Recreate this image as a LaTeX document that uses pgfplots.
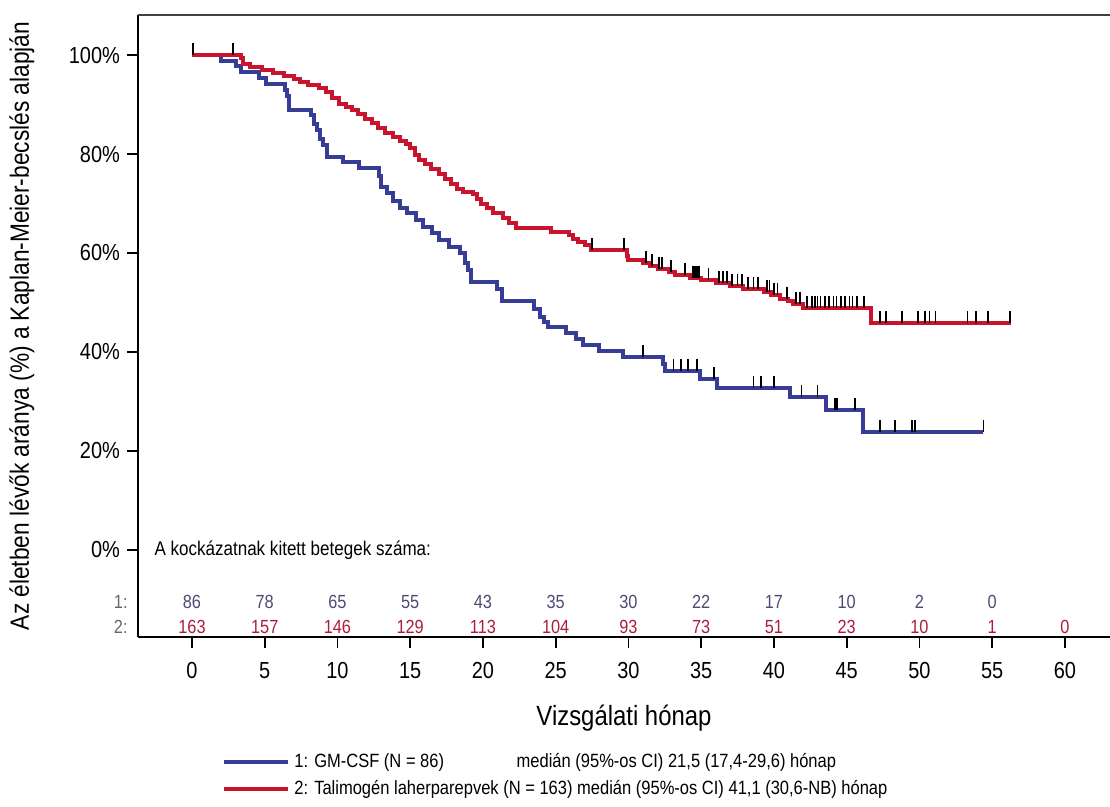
\documentclass[border=0pt]{standalone}
\usepackage{fontspec}
\setmainfont{Liberation Sans}[FakeStretch=0.86]
\usepackage{pgfplots}
\pgfplotsset{compat=1.18}
\definecolor{kmblue}{RGB}{55,60,150}
\definecolor{kmred}{RGB}{200,20,45}
\definecolor{rblue}{RGB}{75,75,115}
\definecolor{rred}{RGB}{170,30,60}
\begin{document}
\begin{tikzpicture}
\useasboundingbox (-69pt,-85pt) rectangle (486pt,318.5pt);
\begin{axis}[
  at={(0,0)}, anchor=south west,
  width=486pt, height=311pt, scale only axis,
  xmin=-3.71, xmax=63.1, ymin=-17.6, ymax=108.1,
  axis line style={draw=none},
  tick pos=left, tick align=outside,
  major tick length=5.5pt,
  every tick/.style={black, line width=0.9pt},
  xtick={0,5,...,60}, ytick={0,20,...,100},
  /pgf/number format/assume math mode=true,
  yticklabel={\pgfmathprintnumber{\tick}\%},
  ticklabel style={font=\fontsize{11.6}{13}\selectfont},
  xticklabel style={yshift=-3.5pt},
  xlabel={Vizsgálati hónap},
  ylabel={Az életben lévők aránya (\%) a Kaplan-Meier-becslés alapján},
  xlabel style={at={([yshift=-40.5pt]axis description cs:0.5,0)}, anchor=center, font=\fontsize{13.9}{16}\selectfont},
  ylabel style={at={([xshift=-58pt]axis description cs:0,0.5)}, anchor=center, font=\fontsize{13.2}{15}\selectfont},
  clip=false,
  legend style={at={([xshift=42pt,yshift=-56pt]rel axis cs:0,0)}, anchor=north west, draw=none, fill=none,
    inner sep=0pt, row sep=1pt, font=\fontsize{9.6}{11}\selectfont, cells={anchor=west}},
  legend image code/.code={\draw[#1] (0pt,0pt) -- (32pt,0pt);},
]
% curves
\addplot[const plot, kmblue, line width=2pt] coordinates {
(0,100)(2.0,98.8)(3.0,97.7)(3.4,96.5)(4.6,95.3)(5.1,94.2)(6.4,93.0)(6.55,91.8)(6.7,89.0)(8.2,87.8)(8.4,86.0)(8.6,84.8)(8.8,83.0)(9.0,81.8)(9.3,79.5)(10.4,78.4)(11.5,77.2)(12.85,75.5)(13.0,73.4)(13.4,72.2)(13.8,70.5)(14.3,69.0)(14.8,68.0)(15.4,66.7)(15.9,65.3)(16.5,64.0)(17.0,62.6)(17.7,61.3)(18.4,60.0)(18.8,58.0)(19.0,56.5)(19.2,54.2)(21.0,52.8)(21.3,50.3)(23.5,48.6)(23.9,47.1)(24.2,46.0)(24.5,45.0)(25.7,43.8)(26.4,42.6)(26.9,41.4)(28.0,40.2)(29.6,39.0)(32.4,37.6)(32.5,36.2)(34.9,34.5)(36.1,32.8)(41.1,31.0)(43.6,28.3)(46.1,23.8)(54.4,23.8)
};
\addlegendentry{1: GM-CSF (N = 86)\hspace{34pt} medián (95\%-os CI) 21,5 (17,4-29,6) hónap}
\addplot[const plot, kmred, line width=2pt] coordinates {
(0,100)(3.4,99.4)(3.5,98.2)(4.0,97.6)(4.8,97.0)(5.6,96.4)(6.3,95.7)(7.0,95.1)(7.4,94.5)(8.0,93.9)(8.7,93.3)(9.2,92.6)(9.6,91.4)(10.1,90.2)(10.6,89.6)(11.0,88.9)(11.4,88.0)(11.9,87.1)(12.4,86.2)(12.8,85.2)(13.3,84.3)(13.8,83.4)(14.3,82.6)(14.7,82.0)(15.0,81.2)(15.3,79.8)(15.6,78.8)(16.0,78.0)(16.4,77.0)(17.0,76.0)(17.4,75.0)(17.8,74.0)(18.2,73.0)(18.6,72.4)(19.3,72.0)(19.6,71.0)(19.9,70.0)(20.3,69.0)(20.7,68.0)(21.4,67.0)(21.8,66.0)(22.3,65.0)(24.7,64.3)(25.9,63.6)(26.2,62.9)(26.5,62.3)(27.0,61.6)(27.4,60.6)(29.9,59.3)(30.0,58.6)(31.0,58.0)(31.5,57.3)(32.0,56.8)(32.8,56.2)(33.2,55.6)(34.2,55.0)(35.0,54.5)(36.0,53.9)(37.0,53.4)(37.9,52.8)(39.3,52.2)(39.8,51.5)(40.4,50.8)(41.0,50.2)(41.3,49.6)(42.0,48.8)(46.7,45.9)(56.3,45.9)
};
\addlegendentry{2: Talimogén laherparepvek (N = 163) medián (95\%-os CI) 41,1 (30,6-NB) hónap}
% censoring marks
\addplot[forget plot, only marks, mark=|, mark size=3pt, mark options={black, line width=0.9pt, yshift=3pt}] coordinates {
(0.05,100)(2.8,100)(27.5,60.6)(29.7,60.6)(31.2,58.0)(31.6,57.3)(32.1,56.8)(32.3,56.8)(32.9,56.2)(33.9,55.6)(34.45,55.0)(34.6,55.0)(34.7,55.0)(34.85,55.0)(35.5,54.5)(36.2,53.9)(36.5,53.9)(36.8,53.9)(37.1,53.4)(37.5,53.4)(37.8,53.4)(38.2,52.8)(38.6,52.8)(38.9,52.8)(39.5,52.2)(39.7,52.2)(40.0,51.5)(40.25,51.5)(40.9,50.8)(41.5,49.6)(41.8,49.6)(42.3,48.8)(42.6,48.8)(42.8,48.8)(43.0,48.8)(43.2,48.8)(43.5,48.8)(43.8,48.8)(44.1,48.8)(44.3,48.8)(44.6,48.8)(44.9,48.8)(45.2,48.8)(45.4,48.8)(45.7,48.8)(46.2,48.8)(47.3,45.9)(47.7,45.9)(48.8,45.9)(49.9,45.9)(50.4,45.9)(50.7,45.9)(51.1,45.9)(53.3,45.9)(53.9,45.9)(54.7,45.9)(56.2,45.9)
};
\addplot[forget plot, only marks, mark=|, mark size=3pt, mark options={black, line width=0.9pt, yshift=3pt}] coordinates {
(31.0,39.0)(33.1,36.2)(33.6,36.2)(34.1,36.2)(34.7,36.2)(35.9,34.5)(38.6,32.8)(39.1,32.8)(40.0,32.8)(41.9,31.0)(43.0,31.0)(44.2,28.3)(44.35,28.3)(45.6,28.3)(47.3,23.8)(48.3,23.8)(49.5,23.8)(49.7,23.8)(54.4,23.8)
};
% numbers at risk
\addplot[forget plot, draw=none, mark=none, nodes near coords, point meta=explicit symbolic,
  every node near coord/.style={anchor=center, inner sep=0pt, text=rblue, font=\fontsize{9.5}{11}\selectfont}]
  table[meta=n] {
x y n
0 -10.5 86
5 -10.5 78
10 -10.5 65
15 -10.5 55
20 -10.5 43
25 -10.5 35
30 -10.5 30
35 -10.5 22
40 -10.5 17
45 -10.5 10
50 -10.5 2
55 -10.5 0
};
\addplot[forget plot, draw=none, mark=none, nodes near coords, point meta=explicit symbolic,
  every node near coord/.style={anchor=center, inner sep=0pt, text=rred, font=\fontsize{9.5}{11}\selectfont}]
  table[meta=n] {
x y n
0 -15.6 163
5 -15.6 157
10 -15.6 146
15 -15.6 129
20 -15.6 113
25 -15.6 104
30 -15.6 93
35 -15.6 73
40 -15.6 51
45 -15.6 23
50 -15.6 10
55 -15.6 1
60 -15.6 0
};
\node[anchor=west, inner sep=0pt, font=\fontsize{9.9}{11}\selectfont] at (axis cs:-2.6,0) {A kockázatnak kitett betegek száma:};
\node[anchor=east, inner sep=0pt, text=black!60, font=\fontsize{9.5}{11}\selectfont] at (axis cs:-4.4,-10.5) {1:};
\node[anchor=east, inner sep=0pt, text=black!60, font=\fontsize{9.5}{11}\selectfont] at (axis cs:-4.4,-15.6) {2:};
% axis lines
\draw[line width=1.3pt, black] (rel axis cs:0,0) -- (rel axis cs:1,0);
\draw[line width=1pt, black] (rel axis cs:0,0) -- (rel axis cs:0,1);
\draw[line width=0.9pt, black!75] (rel axis cs:0,1) -- (rel axis cs:1,1);
\end{axis}
\end{tikzpicture}
\end{document}
